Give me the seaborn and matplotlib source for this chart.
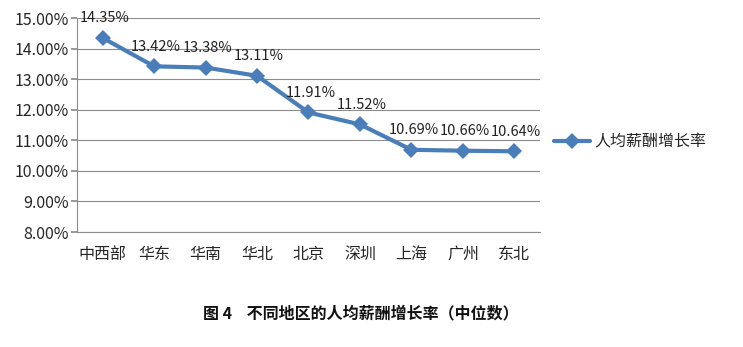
import matplotlib
matplotlib.use("Agg")
import matplotlib.pyplot as plt
import seaborn as sns
import pandas as pd

regions = ["中西部", "华东", "华南", "华北", "北京", "深圳", "上海", "广州", "东北"]
growth = [14.35, 13.42, 13.38, 13.11, 11.91, 11.52, 10.69, 10.66, 10.64]
series_name = "人均薪酬增长率"
y_ticks = [8, 9, 10, 11, 12, 13, 14, 15]
title = "图 4    不同地区的人均薪酬增长率（中位数）"

sns.set_theme(style="white")
plt.rcParams["font.family"] = ["Noto Sans CJK SC", "DejaVu Sans"]

df = pd.DataFrame({"region": regions, "growth": growth, "series": series_name})

fig = plt.figure(figsize=(7.43, 3.47), dpi=100)
ax = fig.add_axes([0.1036, 0.3314, 0.6232, 0.6166])

blue = "#4A7EBB"
sns.lineplot(data=df, x="region", y="growth", hue="series", palette=[blue],
             marker="D", markersize=8, linewidth=3.0, markeredgewidth=0,
             sort=False, ax=ax)

for i, v in enumerate(growth):
    ax.annotate(f"{v:.2f}%", (i, v), xytext=(1.5, 9), textcoords="offset points",
                ha="center", va="bottom", fontsize=10.5, color="#222222")

ax.set_xlim(-0.5, len(regions) - 0.5)
ax.set_ylim(8, 15)
ax.set_yticks(y_ticks)
ax.set_yticklabels([f"{t:.2f}%" for t in y_ticks], fontsize=11.5)
ax.set_xticks(range(len(regions)))
ax.set_xticklabels(regions, fontsize=11.5)
ax.yaxis.grid(True, color="#8c8c8c", linewidth=0.8)
ax.set_axisbelow(True)
ax.set_xlabel("")
ax.set_ylabel("")
for s in ["top", "right"]:
    ax.spines[s].set_visible(False)
for s in ["left", "bottom"]:
    ax.spines[s].set_color("#8c8c8c")
    ax.spines[s].set_linewidth(0.8)
ax.tick_params(axis="y", length=4, color="#8c8c8c", left=True, pad=2)
ax.tick_params(axis="x", length=0, pad=10)

leg = ax.legend(loc="center left", bbox_to_anchor=(1.0, 0.42), frameon=False,
                fontsize=11.5, handlelength=2.2, handletextpad=0.3)

fig.text(0.485, 0.098, title, ha="center", va="center", fontsize=11.5,
         fontweight="bold", color="#111111")

fig.savefig("out.png", dpi=100)
